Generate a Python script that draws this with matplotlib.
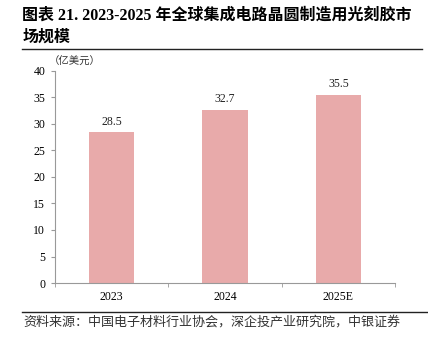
import matplotlib.pyplot as plt
from matplotlib.lines import Line2D

plt.rcParams['font.family'] = ['Liberation Serif', 'Noto Sans CJK SC']

# datos
categorias = ['2023', '2024', '2025E']
valores = [28.5, 32.7, 35.5]
yticks = [0, 5, 10, 15, 20, 25, 30, 35, 40]

fig = plt.figure(figsize=(4.28, 3.49), dpi=100)
ax = fig.add_axes([0.1285, 0.189, 0.7945, 0.608])

x = list(range(len(categorias)))
ax.bar(x, valores, width=0.4, color='#E8AAAA')
for xi, v in zip(x, valores):
    ax.text(xi, v + 0.8, f'{v:.1f}', ha='center', va='bottom', fontsize=8.5, color='#222222')

ax.set_xlim(-0.5, 2.5)
ax.set_ylim(0, 40)
ax.set_yticks(yticks)
ax.set_yticklabels([str(t) for t in yticks], fontsize=8.5)
ax.set_xticks(x)
ax.set_xticklabels(categorias, fontsize=8.5)
ax.tick_params(axis='x', length=0, pad=6)
ax.tick_params(axis='y', length=3, color='#999999', pad=4)
# ticks entre categorias
ax.set_xticks([-0.5, 0.5, 1.5, 2.5], minor=True)
ax.tick_params(axis='x', which='minor', length=3, color='#999999')

for s in ['top', 'right']:
    ax.spines[s].set_visible(False)
for s in ['left', 'bottom']:
    ax.spines[s].set_color('#999999')
    ax.spines[s].set_linewidth(0.8)

# titulo
fig.text(0.052, 0.955, '图表 21. 2023-2025 年全球集成电路晶圆制造用光刻胶市', fontsize=11.5,
         fontweight='bold', va='center', ha='left', family=['Liberation Serif', 'Noto Sans CJK SC'])
fig.text(0.052, 0.895, '场规模', fontsize=11.5, fontweight='bold', va='center', ha='left',
         family=['Noto Sans CJK SC'])
fig.add_artist(Line2D([0.052, 0.985], [0.859, 0.859], color='#222222', lw=1.0))

fig.text(0.113, 0.822, '（亿美元）', fontsize=7.5, va='center', ha='left',
         family=['Noto Sans CJK SC'], color='#333333')

# fuente
fig.add_artist(Line2D([0.052, 1.0], [0.106, 0.106], color='#222222', lw=1.0))
fig.text(0.055, 0.077, '资料来源：中国电子材料行业协会，深企投产业研究院，中银证券', fontsize=9.4,
         va='center', ha='left', family=['Noto Sans CJK SC'], color='#333333')

fig.savefig('out.png', dpi=100)
